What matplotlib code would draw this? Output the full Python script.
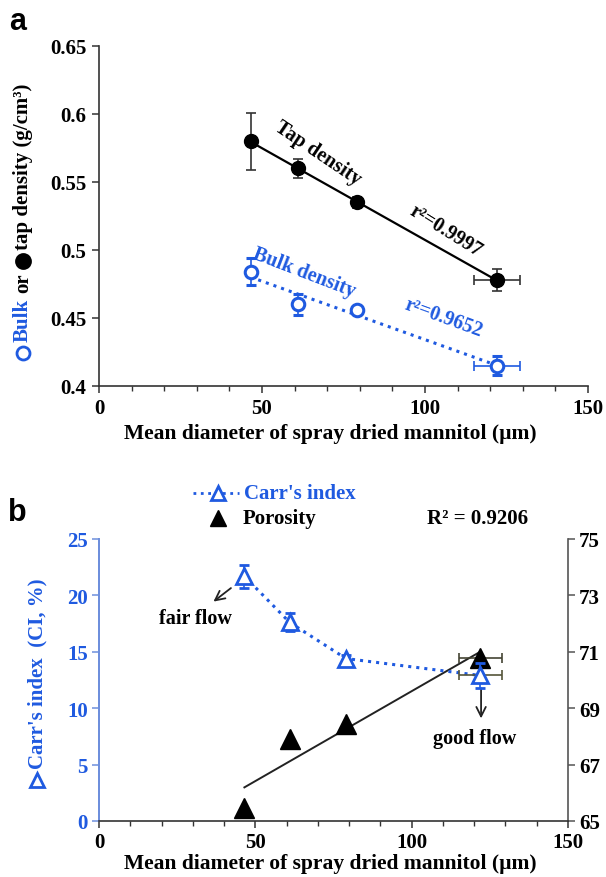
import numpy as np
import matplotlib
matplotlib.use('Agg')
import matplotlib.pyplot as plt
from matplotlib.lines import Line2D
from matplotlib.ticker import MultipleLocator, FuncFormatter

# ---------------- data ----------------
diam = [46.5, 61, 79, 122]            # mean diameter (um)
diam_xerr = [0, 0, 0, 7]
tap = [0.580, 0.560, 0.535, 0.478]    # tap density
tap_err = [0.021, 0.007, 0.004, 0.008]
bulk = [0.484, 0.460, 0.456, 0.415]   # bulk density
bulk_err = [0.010, 0.008, 0.002, 0.007]
carr = [21.7, 17.6, 14.4, 12.9]       # Carr's index (%)
carr_err = [1.0, 0.8, 0.3, 1.1]
porosity = [65.46, 67.9, 68.44, 70.78]

xticks = [0, 50, 100, 150]
a_yticks = [0.4, 0.45, 0.5, 0.55, 0.6, 0.65]
b_yticks = [0, 5, 10, 15, 20, 25]
b_y2ticks = [65, 67, 69, 71, 73, 75]

W, H = 606, 878
SERIF = ['Liberation Serif', 'DejaVu Serif']
SANS = ['Liberation Sans', 'DejaVu Sans']
BLUE = '#1f5ae0'
SPINE_BLUE = '#6d8fdc'
TFS = 15

def fx(x):
    return x / W

def fy(y):
    return 1 - y / H

fig = plt.figure(figsize=(W / 100, H / 100), dpi=100)

x = np.array(diam, dtype=float)
xe = np.array(diam_xerr, dtype=float)
mask = xe > 0

# ---------------- panel a ----------------
axa = fig.add_axes([fx(99), fy(387), (588 - 99) / W, (387 - 47) / H])
axa.set_xlim(0, 150)
axa.set_ylim(0.4, 0.65)
for s in ['top', 'right']:
    axa.spines[s].set_visible(False)
for s in ['left', 'bottom']:
    axa.spines[s].set_color('#333333')
    axa.spines[s].set_linewidth(1.2)

# fits
for yv, col, ls, lw in [(tap, 'black', '-', 1.6), (bulk, BLUE, ':', 2.2)]:
    p = np.polyfit(x, yv, 1)
    xx = np.array([x.min(), x.max()])
    axa.plot(xx, np.polyval(p, xx), color=col, ls=ls, lw=lw, zorder=2)

axa.errorbar(x, tap, yerr=tap_err, fmt='o', color='black', ms=10,
             ecolor='#333333', elinewidth=1.2, capsize=3.5, capthick=1.2, zorder=3)
axa.errorbar(x[mask], np.array(tap)[mask], xerr=xe[mask], fmt='none',
             ecolor='#333333', elinewidth=1.2, capsize=3.5, capthick=1.2, zorder=3)
axa.errorbar(x, bulk, yerr=bulk_err, fmt='o', mfc='white', mec=BLUE, mew=2.2,
             ms=9, ecolor=BLUE, elinewidth=1.2, capsize=3.5, capthick=1.2, zorder=3)
axa.errorbar(x[mask], np.array(bulk)[mask], xerr=xe[mask], fmt='none',
             ecolor=BLUE, elinewidth=1.2, capsize=3.5, capthick=1.2, zorder=2)

axa.set_xticks(xticks)
axa.xaxis.set_minor_locator(MultipleLocator(10))
axa.set_yticks(a_yticks)
axa.yaxis.set_major_formatter(FuncFormatter(lambda v, p: '%g' % v))
axa.tick_params(axis='both', which='major', direction='out', length=5, width=1.1,
                color='#333333', labelsize=TFS, pad=4)
axa.tick_params(axis='x', which='minor', direction='out', length=3.5, width=1.0,
                color='#333333')
for lab in axa.get_xticklabels() + axa.get_yticklabels():
    lab.set_fontfamily(SERIF)
    lab.set_fontweight('bold')

axa.text(67, 0.5716, 'Tap density', rotation=-34, rotation_mode='anchor',
         ha='center', va='center', fontsize=14.5, fontweight='bold', family=SERIF,
         color='black')
axa.text(106.3, 0.5144, 'r²=0.9997', rotation=-32, rotation_mode='anchor',
         ha='center', va='center', fontsize=14.5, fontweight='bold', family=SERIF,
         color='black')
axa.text(63, 0.484, 'Bulk density', rotation=-21, rotation_mode='anchor',
         ha='center', va='center', fontsize=14.5, fontweight='bold', family=SERIF,
         color=BLUE)
axa.text(105.7, 0.4505, 'r²=0.9652', rotation=-20, rotation_mode='anchor',
         ha='center', va='center', fontsize=14.5, fontweight='bold', family=SERIF,
         color=BLUE)

fig.text(fx(330), fy(434), 'Mean diameter of spray dried mannitol (µm)',
         ha='center', va='center', fontsize=15.5, fontweight='bold', family=SERIF)
fig.text(fx(18), fy(22), 'a', ha='center', va='center', fontsize=22,
         fontweight='bold', family=SANS)

# ---------------- panel b ----------------
axb = fig.add_axes([fx(99), fy(822), (568 - 99) / W, (822 - 540) / H])
axb2 = axb.twinx()
axb.set_xlim(0, 150)
axb.set_ylim(0, 25)
axb2.set_ylim(65, 75)
axb.spines['top'].set_visible(False)
axb2.spines['top'].set_visible(False)
axb.spines['left'].set_color(SPINE_BLUE)
axb2.spines['left'].set_color(SPINE_BLUE)
axb.spines['left'].set_linewidth(1.3)
axb2.spines['left'].set_linewidth(1.3)
axb.spines['bottom'].set_color('#333333')
axb.spines['bottom'].set_linewidth(1.2)
axb2.spines['right'].set_color('#555555')
axb2.spines['right'].set_linewidth(1.2)
axb.spines['right'].set_visible(False)
axb2.spines['bottom'].set_visible(False)

# porosity fit + markers
p = np.polyfit(x, porosity, 1)
xx = np.array([x.min(), x.max()])
axb2.plot(xx, np.polyval(p, xx), color='#222222', lw=1.4, zorder=2)
axb2.plot(x, porosity, ls='none', marker='^', ms=14, color='black', zorder=3)
axb2.errorbar(x[mask], np.array(porosity)[mask], xerr=xe[mask], fmt='none',
              ecolor='#444433', elinewidth=1.2, capsize=3.5, capthick=1.2, zorder=2)

# Carr's index
axb.plot(x, carr, ls=':', lw=2.2, color=BLUE, zorder=4)
axb.errorbar(x, carr, yerr=carr_err, fmt='^', mfc='white', mec=BLUE, mew=2.0,
             ms=11, ecolor=BLUE, elinewidth=1.2, capsize=3.5, capthick=1.2, zorder=5)
axb.errorbar(x[mask], np.array(carr)[mask], xerr=xe[mask], fmt='none',
             ecolor='#55553a', elinewidth=1.2, capsize=3.5, capthick=1.2, zorder=4)
axb.set_zorder(axb2.get_zorder() + 1)
axb.patch.set_visible(False)

axb.set_xticks(xticks)
axb.xaxis.set_minor_locator(MultipleLocator(10))
axb.set_yticks(b_yticks)
axb2.set_yticks(b_y2ticks)
axb.tick_params(axis='x', which='major', direction='out', length=5, width=1.1,
                color='#333333', labelsize=TFS, pad=3)
axb.tick_params(axis='x', which='minor', direction='out', length=3.5, width=1.0,
                color='#333333')
axb.tick_params(axis='y', which='major', direction='out', length=5, width=1.1,
                color=SPINE_BLUE, labelcolor=BLUE, labelsize=TFS, pad=3)
axb2.tick_params(axis='y', which='major', direction='out', length=5, width=1.1,
                 color='#555555', labelsize=TFS, pad=3)
for lab in (axb.get_xticklabels() + axb.get_yticklabels() + axb2.get_yticklabels()):
    lab.set_fontfamily(SERIF)
    lab.set_fontweight('bold')

axb.annotate('', xy=(35.9, 19.3), xytext=(42.9, 20.8),
             arrowprops=dict(arrowstyle='->', lw=1.3, color='#222222', mutation_scale=17))
axb.text(30.9, 17.98, 'fair flow', ha='center', va='center', fontsize=14.5,
         fontweight='bold', family=SERIF)
axb.annotate('', xy=(122.2, 8.85), xytext=(122.2, 12.0),
             arrowprops=dict(arrowstyle='->', lw=1.3, color='#222222', mutation_scale=17))
axb.text(120, 7.37, 'good flow', ha='center', va='center', fontsize=14.5,
         fontweight='bold', family=SERIF)

# legend (manual)
fig.add_artist(Line2D([fx(193), fx(239)], [fy(494), fy(494)], transform=fig.transFigure,
                      ls=':', lw=2.0, color=BLUE))
fig.add_artist(Line2D([fx(218)], [fy(494)], transform=fig.transFigure, marker='^',
                      ms=10, mfc='white', mec=BLUE, mew=2.0, ls='none'))
fig.text(fx(244), fy(494), "Carr's index", ha='left', va='center', fontsize=15,
         fontweight='bold', family=SERIF, color=BLUE)
fig.add_artist(Line2D([fx(218)], [fy(519)], transform=fig.transFigure, marker='^',
                      ms=11, color='black', ls='none'))
fig.text(fx(243), fy(519), 'Porosity', ha='left', va='center', fontsize=15,
         fontweight='bold', family=SERIF)
fig.text(fx(478), fy(519), 'R² = 0.9206', ha='center', va='center', fontsize=15,
         fontweight='bold', family=SERIF)

fig.text(fx(330), fy(864), 'Mean diameter of spray dried mannitol (µm)',
         ha='center', va='center', fontsize=15.5, fontweight='bold', family=SERIF)
fig.text(fx(17), fy(513), 'b', ha='center', va='center', fontsize=22,
         fontweight='bold', family=SANS)

# ---------------- rotated composite y-labels ----------------
renderer = fig.canvas.get_renderer()

def rotated_label(pieces, x_px, yc_px, fontsize):
    items = []
    for pc in pieces:
        if pc[0] == 't':
            t = fig.text(0, 0, pc[1], color=pc[2], rotation=90, fontsize=fontsize,
                         fontweight='bold', family=SERIF, ha='center', va='bottom')
            L = t.get_window_extent(renderer).height
            items.append(('t', t, L))
        elif pc[0] == 'g':
            items.append(('g', None, pc[1]))
        else:
            items.append(('m', pc, pc[4]))
    total = sum(it[2] for it in items)
    yb = (H - yc_px) - total / 2.0
    for kind, obj, L in items:
        if kind == 't':
            obj.set_position((x_px / W, yb / H))
        elif kind == 'm':
            _, mk, fc, ec, size = obj
            fig.add_artist(Line2D([x_px / W], [(yb + L / 2.0) / H],
                                  transform=fig.transFigure, marker=mk, ms=size * 0.72,
                                  mfc=fc, mec=ec, mew=2.0, ls='none'))
        yb += L

rotated_label([('m', 'o', 'white', BLUE, 13), ('g', 6), ('t', 'Bulk', BLUE), ('g', 5),
               ('t', 'or', 'black'), ('g', 5), ('m', 'o', 'black', 'black', 14),
               ('g', 5), ('t', 'tap density (g/cm³)', 'black')], 23, 222, 15)
rotated_label([('m', '^', 'white', BLUE, 14), ('g', 5),
               ('t', "Carr's index  (CI, %)", BLUE)], 37, 683, 15)

fig.savefig('out.png', dpi=100)
